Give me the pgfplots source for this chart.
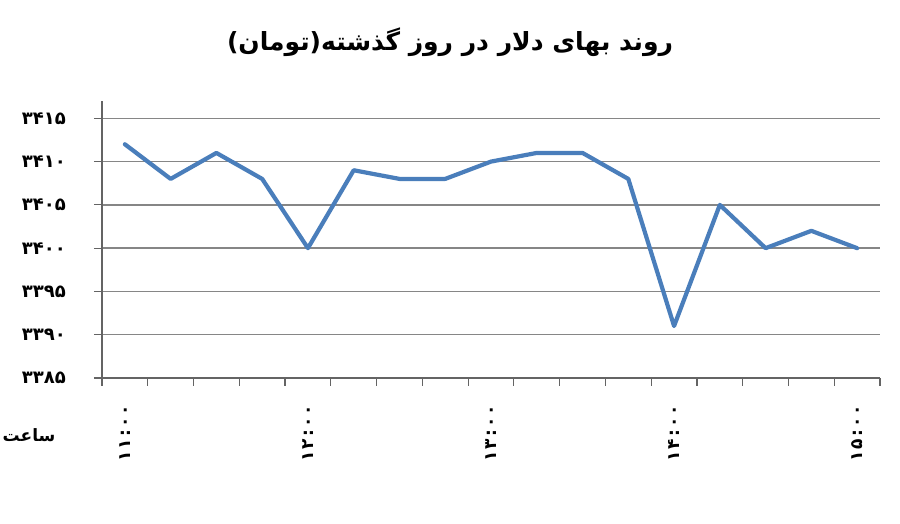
\documentclass[border=0pt]{standalone}
\usepackage{fontspec}
\usepackage{pgfplots}
\pgfplotsset{compat=1.18}
\TeXXeTstate=1
\newfontfamily\fa[Script=Arabic]{DejaVu Sans}
\newfontfamily\faspaced[Script=Arabic, LetterSpace=12]{DejaVu Sans}
\definecolor{linecol}{RGB}{74,126,187}
\definecolor{gridcol}{RGB}{134,134,134}
\definecolor{axcol}{RGB}{100,100,100}
\begin{document}
\begin{tikzpicture}[x=1pt,y=1pt]
\useasboundingbox (0,0) rectangle (900,524);
\begin{axis}[
  at={(102pt,146pt)}, anchor=south west,
  scale only axis, width=778pt, height=277pt,
  xmin=-0.5, xmax=16.5, ymin=3385, ymax=3417,
  axis x line=bottom, axis y line=left,
  axis line style={-, draw=axcol, line width=1.2pt},
  xtick={-0.5,0.5,1.5,2.5,3.5,4.5,5.5,6.5,7.5,8.5,9.5,10.5,11.5,12.5,13.5,14.5,15.5,16.5},
  xticklabels={},
  extra x ticks={0,4,8,12,16},
  extra x tick labels={۱۱:۰۰,۱۲:۰۰,۱۳:۰۰,۱۴:۰۰,۱۵:۰۰},
  extra x tick style={major tick length=0pt, grid=none,
     xticklabel style={font=\faspaced\bfseries\fontsize{17}{17}\selectfont, rotate=90, anchor=east, inner sep=0pt}},
  xticklabel shift=27pt,
  ytick={3385,3390,3395,3400,3405,3410,3415},
  yticklabels={۳۳۸۵,۳۳۹۰,۳۳۹۵,۳۴۰۰,۳۴۰۵,۳۴۱۰,۳۴۱۵},
  yticklabel style={font=\fa\bfseries\fontsize{18}{18}\selectfont, anchor=east, inner sep=0pt},
  yticklabel shift=28pt,
  tick align=outside,
  major tick length=8pt,
  tick style={draw=axcol, line width=1.2pt},
  ymajorgrids,
  major grid style={draw=gridcol, line width=1.4pt},
  clip=false,
]
\addplot[color=linecol, line width=4.2pt, line join=round, line cap=round, mark=none] coordinates {
(0,3412) (1,3408) (2,3411) (3,3408) (4,3400) (5,3409) (6,3408) (7,3408)
(8,3410) (9,3411) (10,3411) (11,3408) (12,3391) (13,3405) (14,3400)
(15,3402) (16,3400)
};
\end{axis}
\node[font=\fa\bfseries\fontsize{25}{29}\selectfont] at (450,482) {\beginR روند بهای دلار در روز گذشته(تومان)\endR};
\node[font=\fa\bfseries\fontsize{17}{20}\selectfont] at (29,89) {\beginR ساعت\endR};
\end{tikzpicture}
\end{document}
